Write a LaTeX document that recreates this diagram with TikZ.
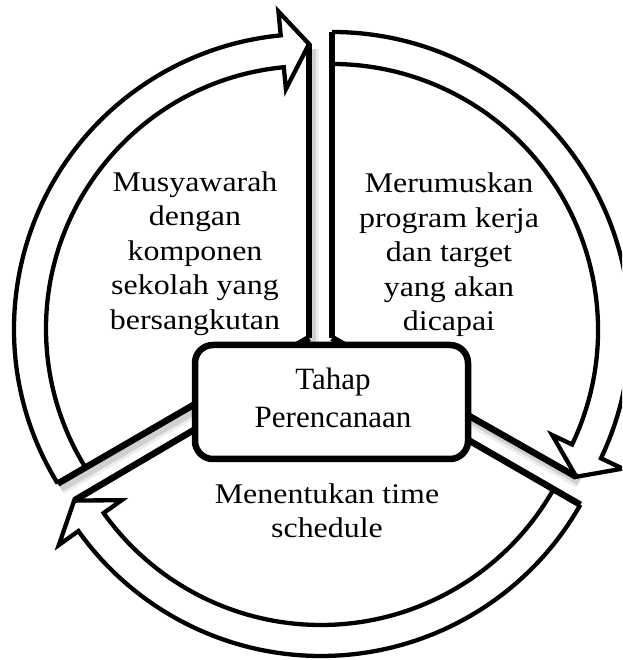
\documentclass[tikz,border=0pt]{standalone}
\usepackage{fontspec}
\setmainfont{Liberation Serif}
\newfontfamily\wedgefont[FakeStretch=1.12]{Liberation Serif}
\usetikzlibrary{calc}
% #1 name, #2 arc centre, #3 apex, #4 tail angle, #5 head base angle, #6 tip angle, #7 inner r, #8 outer r
\newcommand\cyclepart[8]{%
  \coordinate (#1-o) at #2;
  \coordinate (#1-a) at #3;
  \coordinate (#1-to) at ($(#1-o)+(#4:#8)$);
  \coordinate (#1-ti) at ($(#1-o)+(#4:#7)$);
  \coordinate (#1-bo) at ($(#1-o)+(#5:#8)$);
  \coordinate (#1-bi) at ($(#1-o)+(#5:#7)$);
  \coordinate (#1-po) at ($(#1-o)+(#5:#8+24)$);
  \coordinate (#1-pi) at ($(#1-o)+(#5:#7-22)$);
  \coordinate (#1-tip) at ($(#1-o)+(#6:285)$);
}
\newcommand\drawpart[5]{% #1 name, #2 tail angle, #3 base angle, #4 inner r, #5 outer r
  \fill[white] (#1-a) -- (#1-to) arc[start angle=#2, end angle=#3, radius=#5] -- (#1-po) -- (#1-tip) -- cycle;
  \draw[outline] (#1-to) arc[start angle=#2, end angle=#3, radius=#5] -- (#1-po) -- (#1-tip) -- (#1-pi) -- (#1-bi) arc[start angle=#3, end angle=#2, radius=#4];
  \draw[radial] (#1-a) -- (#1-to);
  \draw[radial] (#1-a) -- (#1-tip);
}
\begin{document}
\begin{tikzpicture}[x=1pt,y=1pt,
  outline/.style={line width=4.3pt, line join=miter, miter limit=6},
  radial/.style={line width=6.5pt},
  shadowwide/.style={line width=13pt, black, opacity=0.07},
  shadownarrow/.style={line width=7pt, black, opacity=0.12},
  wtext/.style={font=\wedgefont\fontsize{28.5}{34.5}\selectfont, anchor=base, inner sep=0pt},
  ctext/.style={font=\fontsize{31}{38}\selectfont, anchor=base, inner sep=0pt},
  hubbox/.style={draw, line width=6.5pt, rounded corners=18pt, fill=white, minimum width=273pt, minimum height=114pt, inner sep=0pt}
]
\clip (0,0) rectangle (622,660);
\fill[white] (0,0) rectangle (622,660);

\cyclepart{L}{(309,331)}{(309,322)}{211.6}{95.5}{90}{263}{295}
\cyclepart{R}{(332,330)}{(332,322)}{90}{-25.5}{-31}{266}{298}
\cyclepart{B}{(321,302)}{(321,305)}{330.5}{215.5}{210}{267}{298}

% soft shadows in the gaps
\foreach \st in {shadowwide,shadownarrow}{
  \draw[\st] ([shift={(3,-5)}]L-a) -- ([shift={(3,-5)}]L-tip);
  \draw[\st] ([shift={(3,-5)}]L-a) -- ([shift={(3,-5)}]L-to);
  \draw[\st] ([shift={(3,-5)}]R-a) -- ([shift={(3,-5)}]R-tip);
}

\drawpart{B}{330.5}{215.5}{267}{298}
\drawpart{R}{90}{-25.5}{266}{298}
\drawpart{L}{211.6}{95.5}{263}{295}

% hub
\node[hubbox] (hub) at (331.5,258) {};
\node[ctext] (hub1) at (333,270) {Tahap};
\node[ctext] (hub2) at (333,232) {Perencanaan};

% left segment text
\node[wtext] (l1) at (195,468.5) {Musyawarah};
\node[wtext] (l2) at (195,434) {dengan};
\node[wtext] (l3) at (195,399.5) {komponen};
\node[wtext] (l4) at (195,365) {sekolah yang};
\node[wtext] (l5) at (195,330.5) {bersangkutan};

% right segment text
\node[wtext] (r1) at (449,467) {Merumuskan};
\node[wtext] (r2) at (449,432.5) {program kerja};
\node[wtext] (r3) at (449,398) {dan target};
\node[wtext] (r4) at (449,363.5) {yang akan};
\node[wtext] (r5) at (449,329) {dicapai};

% bottom segment text
\node[wtext] (b1) at (327,156.5) {Menentukan time};
\node[wtext] (b2) at (327,122) {schedule};
\end{tikzpicture}
\end{document}
